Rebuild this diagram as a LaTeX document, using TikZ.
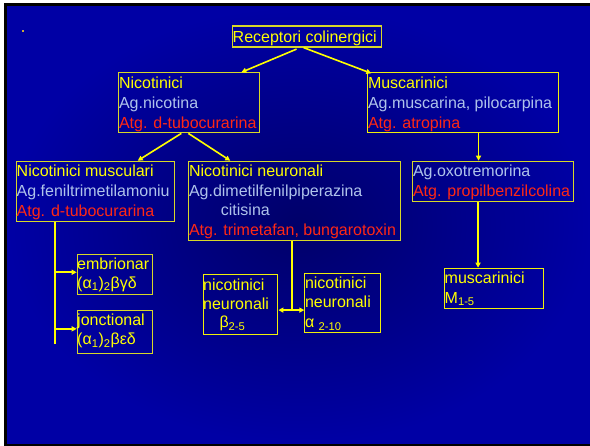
\documentclass[tikz,border=0pt]{standalone}
\usepackage{fontspec}
\setmainfont{Liberation Sans}
\usetikzlibrary{arrows.meta,calc}
\definecolor{ytext}{RGB}{255,255,0}
\definecolor{btext}{RGB}{175,195,235}
\definecolor{rtext}{RGB}{255,40,20}
\definecolor{boxol}{RGB}{215,215,40}
\definecolor{boxye}{RGB}{240,240,10}
\definecolor{bgin}{RGB}{0,0,105}
\definecolor{bgout}{RGB}{0,0,165}
\definecolor{dotc}{RGB}{200,170,60}
\begin{document}
\begin{tikzpicture}[x=1pt,y=-1pt,
  font=\fontsize{16}{20}\selectfont,
  box/.style={draw=#1,line width=1.1pt,inner sep=0pt,anchor=north west,rectangle},
  box/.default=boxol,
  tx/.style={anchor=base west,inner sep=0pt,text=#1},
  arr/.style={draw=ytext,line width=1.6pt,-{Triangle[length=5pt,width=5pt]}},
  darr/.style={draw=ytext,line width=1.6pt,{Triangle[length=5pt,width=5pt]}-{Triangle[length=5pt,width=5pt]}},
  ln/.style={draw=ytext,line width=1.8pt}]
\useasboundingbox (0,0) rectangle (590,446);
\fill[white] (0,0) rectangle (590,446);
\fill[black] (4,3) rectangle (590,446);
\shade[inner color=bgin,outer color=bgout] (7,7) rectangle (590,444);
\fill[dotc] (21.7,29.7) rectangle (23.7,31.7);

% boxes
\node[box,minimum width=149pt,minimum height=21pt] (rc) at (231.5,25.5) {};
\node[box,minimum width=141pt,minimum height=60pt] (nic) at (118.3,72.3) {};
\node[box=boxye,minimum width=190.4pt,minimum height=60pt] (mus) at (367.3,72.3) {};
\node[box,minimum width=158.3pt,minimum height=60pt] (nm) at (16,160.7) {};
\node[box,minimum width=211.7pt,minimum height=79.3pt] (nn) at (188.3,160.7) {};
\node[box,minimum width=160.4pt,minimum height=40.3pt] (ox) at (412.3,160.7) {};
\node[box=boxye,minimum width=98.4pt,minimum height=40.6pt] (mm) at (444.3,267.7) {};
\node[box,minimum width=75pt,minimum height=40pt] (emb) at (76.7,254) {};
\node[box,minimum width=75pt,minimum height=42.6pt] (jon) at (76.7,310) {};
\node[box=boxye,minimum width=74.6pt,minimum height=59.7pt] (nb) at (202.7,274.3) {};
\node[box=boxye,minimum width=75.4pt,minimum height=59.6pt] (na) at (304.3,272.7) {};

% texts
\node[tx=ytext] (rct) at (232.5,42.3) {Receptori colinergici};

\node[tx=ytext] (nic1) at (118.8,88.3) {Nicotinici};
\node[tx=btext] (nic2) at (118.8,108.3) {Ag.nicotina};
\node[tx=rtext] (nic3) at (118.8,128.3) {Atg. d-tubocurarina};

\node[tx=ytext] (mus1) at (367.8,88.3) {Muscarinici};
\node[tx=btext] (mus2) at (367.8,108.3) {Ag.muscarina, pilocarpina};
\node[tx=rtext] (mus3) at (367.8,128.3) {Atg. atropina};

\node[tx=ytext] (nm1) at (16.5,177) {Nicotinici musculari};
\node[tx=btext] (nm2) at (16.5,196.7) {Ag.feniltrimetilamoniu};
\node[tx=rtext] (nm3) at (16.5,216.3) {Atg. d-tubocurarina};

\node[tx=ytext] (nn1) at (188.8,177) {Nicotinici neuronali};
\node[tx=btext] (nn2) at (188.8,196.7) {Ag.dimetilfenilpiperazina};
\node[tx=btext] (nn3) at (220.7,215.8) {citisina};
\node[tx=rtext] (nn4) at (188.8,235.3) {Atg. trimetafan, bungarotoxin};

\node[tx=btext] (ox1) at (412.8,177) {Ag.oxotremorina};
\node[tx=rtext] (ox2) at (412.8,196.7) {Atg. propilbenzilcolina};

\node[tx=ytext] (mm1) at (444.5,283.5) {muscarinici};
\node[tx=ytext] (mm2) at (444.5,303.3) {M\textsubscript{1-5}};

\node[tx=ytext] (emb1) at (77,269.5) {embrionar};
\node[tx=ytext] (emb2) at (77,288.3) {(α\textsubscript{1})\textsubscript{2}βγδ};

\node[tx=ytext] (jon1) at (77,325.8) {jonctional};
\node[tx=ytext] (jon2) at (77,345) {(α\textsubscript{1})\textsubscript{2}βεδ};

\node[tx=ytext] (nb1) at (203,290.3) {nicotinici};
\node[tx=ytext] (nb2) at (203,309.3) {neuronali};
\node[tx=ytext] (nb3) at (219.3,327.8) {β\textsubscript{2-5}};

\node[tx=ytext] (na1) at (304.8,288.3) {nicotinici};
\node[tx=ytext] (na2) at (304.8,307.3) {neuronali};
\node[tx=ytext] (na3) at (304.8,327.5) {α \textsubscript{2-10}};

% connectors
\draw[arr] ([xshift=-10pt,yshift=-1.5pt]rc.south) -- ([xshift=52pt]nic.north);
\draw[arr] ([xshift=-3pt]rc.south) -- ([xshift=4pt,yshift=-1pt]mus.north west);
\draw[arr] ([xshift=-8pt]nic.south) -- ([xshift=42pt]nm.north);
\draw[arr] ([xshift=-1pt]nic.south) -- ([xshift=42pt]nn.north west);
\draw[arr] ([xshift=15.5pt]mus.south) -- ([xshift=15.5pt]mus.south |- ox.north);
\draw[arr] ([xshift=-15pt]ox.south) -- ([xshift=-15pt]ox.south |- mm.north);

\coordinate (trm) at ($(nm.south)+(-41,122.3)$);
\draw[ln] ([xshift=-41pt]nm.south) -- (trm);
\draw[arr] ([yshift=2.3pt]emb.west -| trm) -- ([yshift=2.3pt]emb.west);
\draw[arr] ([yshift=3pt]jon.west -| trm) -- ([yshift=3pt]jon.west);

\coordinate (jn) at ($(nn.south)+(-3,69)$);
\draw[ln] ([xshift=-3pt]nn.south) -- (jn);
\draw[darr] (jn -| nb.east) -- (jn -| na.west);
\end{tikzpicture}
\end{document}
